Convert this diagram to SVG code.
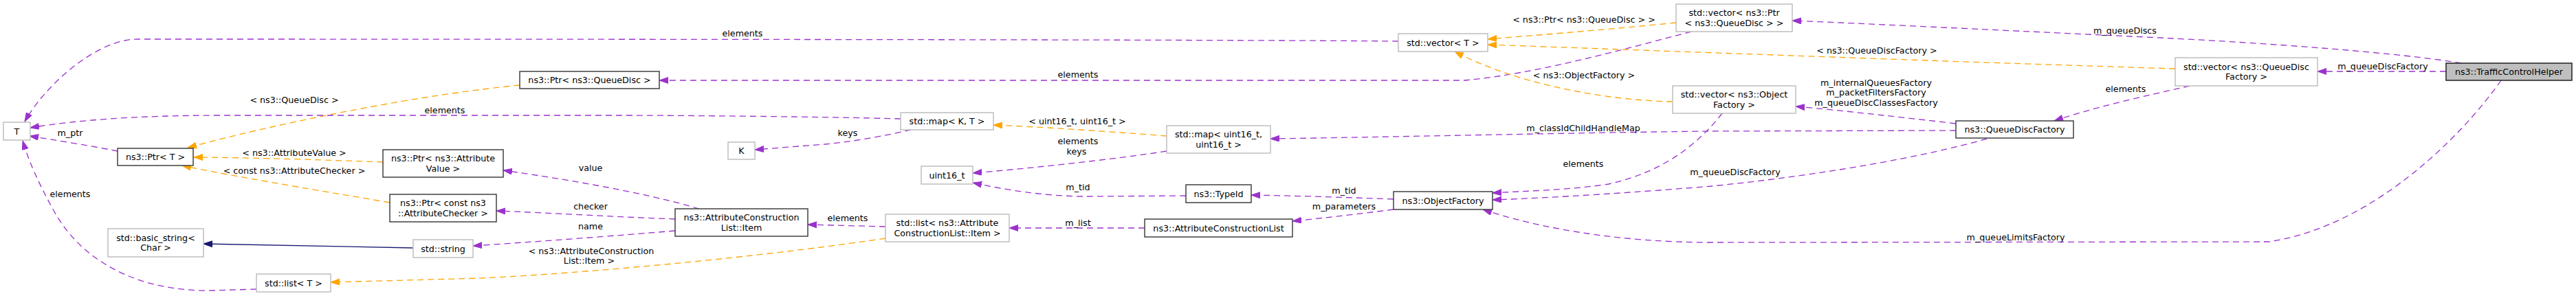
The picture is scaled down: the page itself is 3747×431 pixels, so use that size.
<svg xmlns="http://www.w3.org/2000/svg" width="3747" height="431" viewBox="0 0 3747 431">
<style>
text{font-family:"DejaVu Sans","Liberation Sans",sans-serif;font-size:12.7px;fill:#000;text-anchor:middle}
.d rect{fill:#fff;stroke:#404040;stroke-width:1.5}
.l rect{fill:#fff;stroke:#bfbfbf;stroke-width:1.5}
.h rect{fill:#bfbfbf;stroke:#202020;stroke-width:1.5}
.p{fill:none;stroke:#9a32cd;stroke-width:1.3;stroke-dasharray:9,6;marker-end:url(#ap)}
.o{fill:none;stroke:#ffa500;stroke-width:1.3;stroke-dasharray:9,6;marker-end:url(#ao)}
.s{fill:none;stroke:#191970;stroke-width:1.3;marker-end:url(#as)}
</style>
<defs>
<marker id="ap" markerUnits="userSpaceOnUse" markerWidth="14" markerHeight="10" refX="13" refY="4.5" orient="auto"><path d="M0,0 L13,4.5 L0,9 z" fill="#9a32cd" stroke="#9a32cd"/></marker>
<marker id="ao" markerUnits="userSpaceOnUse" markerWidth="14" markerHeight="10" refX="13" refY="4.5" orient="auto"><path d="M0,0 L13,4.5 L0,9 z" fill="#ffa500" stroke="#ffa500"/></marker>
<marker id="as" markerUnits="userSpaceOnUse" markerWidth="14" markerHeight="10" refX="13" refY="4.5" orient="auto"><path d="M0,0 L13,4.5 L0,9 z" fill="#191970" stroke="#191970"/></marker>
</defs>
<rect width="3747" height="431" fill="#fff"/>
<g id="edges">
<path class="p" d="M2034,60 C1700,57 400,57 200,57 C140,57 65,125 36,177"/>
<text x="1080" y="53">elements</text>
<path class="p" d="M2460,46 C2350,75 2230,108 2130,117 L959,117"/>
<text x="1568" y="113">elements</text>
<path class="o" d="M756,124 C620,137 420,175 273,215"/>
<text x="428" y="150">&lt; ns3::QueueDisc &gt;</text>
<path class="p" d="M1310,173 C1200,170 1000,168 900,168 L320,168 C200,168 110,175 44,186"/>
<text x="647" y="165">elements</text>
<path class="p" d="M1325,189 C1290,197 1250,205 1200,210 L1098,218"/>
<text x="1233" y="198">keys</text>
<path class="p" d="M171,220 C130,212 80,204 43,198"/>
<text x="102" y="198">m_ptr</text>
<path class="o" d="M557,236 C480,233 350,229 282,229"/>
<text x="428" y="227">&lt; ns3::AttributeValue &gt;</text>
<path class="o" d="M567,295 C450,275 330,255 265,241"/>
<text x="428" y="253">&lt; const ns3::AttributeChecker &gt;</text>
<path class="s" d="M601,361 L296,355"/>
<path class="p" d="M373,421 L310,423 C200,425 120,380 80,310 C55,265 42,235 33,205"/>
<text x="102" y="287">elements</text>
<path class="p" d="M1017,304 C980,293 900,272 732,248"/>
<text x="859" y="249">value</text>
<path class="p" d="M982,319 C900,316 800,310 722,307"/>
<text x="859" y="305">checker</text>
<path class="p" d="M982,336 C900,343 780,352 688,358"/>
<text x="859" y="334">name</text>
<path class="o" d="M1288,347 C1150,368 900,395 700,405 L481,411"/>
<text x="860" y="370">&lt; ns3::AttributeConstruction</text>
<text x="857" y="384">List::Item &gt;</text>
<path class="p" d="M1288,330 L1175,327"/>
<text x="1233" y="322">elements</text>
<path class="o" d="M1697,198 C1620,192 1520,185 1445,182"/>
<text x="1567" y="181">&lt; uint16_t, uint16_t &gt;</text>
<path class="p" d="M1697,220 C1620,232 1500,245 1415,252"/>
<text x="1568" y="210">elements</text>
<text x="1566" y="225">keys</text>
<path class="p" d="M1725,285 L1580,286 C1520,286 1460,276 1415,266"/>
<text x="1568" y="277">m_tid</text>
<path class="p" d="M2027,290 C1950,287 1880,285 1820,284"/>
<text x="1955" y="282">m_tid</text>
<path class="p" d="M2027,305 C1980,311 1930,317 1880,322"/>
<text x="1955" y="305">m_parameters</text>
<path class="p" d="M1665,332 L1468,332"/>
<text x="1568" y="329">m_list</text>
<path class="o" d="M2438,33 C2350,42 2250,50 2164,57"/>
<text x="2304" y="33">&lt; ns3::Ptr&lt; ns3::QueueDisc &gt; &gt;</text>
<path class="o" d="M3164,100 C2900,92 2500,77 2164,65"/>
<text x="2730" y="78">&lt; ns3::QueueDiscFactory &gt;</text>
<path class="o" d="M2433,148 C2330,146 2200,120 2116,75"/>
<text x="2304" y="114">&lt; ns3::ObjectFactory &gt;</text>
<path class="p" d="M2505,165 C2470,210 2420,250 2340,268 C2280,277 2220,278 2171,281"/>
<text x="2303" y="243">elements</text>
<path class="p" d="M2845,180 C2760,170 2680,161 2612,155"/>
<text x="2729" y="125">m_internalQueuesFactory</text>
<text x="2729" y="139">m_packetFiltersFactory</text>
<text x="2729" y="154">m_queueDiscClassesFactory</text>
<path class="p" d="M2845,190 L2490,191 C2300,193 2000,200 1848,202"/>
<text x="2303" y="191">m_classIdChildHandleMap</text>
<path class="p" d="M2890,202 C2800,228 2650,255 2490,271 C2380,280 2260,288 2171,291"/>
<text x="2524" y="255">m_queueDiscFactory</text>
<path class="p" d="M3185,125 C3120,140 3050,155 2988,176"/>
<text x="3092" y="134">elements</text>
<path class="p" d="M3580,92 C3500,78 3300,62 3100,53 C2950,46 2750,36 2607,30"/>
<text x="3091" y="49">m_queueDiscs</text>
<path class="p" d="M3558,104 L3371,104"/>
<text x="3466" y="101">m_queueDiscFactory</text>
<path class="p" d="M3638,117 C3580,200 3450,330 3300,352 L2490,353 C2350,353 2230,330 2157,305"/>
<text x="2932" y="350">m_queueLimitsFactory</text>
</g>
<g id="n_T" class="l"><rect x="5" y="178" width="39" height="26"/><text x="24.5" y="195.5">T</text></g>
<g id="n_PtrT" class="d"><rect x="171" y="216" width="110" height="25"/><text x="226" y="233">ns3::Ptr&lt; T &gt;</text></g>
<g id="n_basic_string" class="l"><rect x="157" y="333" width="139" height="41"/><text x="226.5" y="350.5">std::basic_string&lt;</text><text x="226.5" y="365">Char &gt;</text></g>
<g id="n_listT" class="l"><rect x="373" y="399" width="108" height="26"/><text x="427" y="416.5">std::list&lt; T &gt;</text></g>
<g id="n_PtrAttrValue" class="d"><rect x="557" y="218" width="175" height="40"/><text x="644.5" y="235">ns3::Ptr&lt; ns3::Attribute</text><text x="644.5" y="249.5">Value &gt;</text></g>
<g id="n_PtrAttrChecker" class="d"><rect x="567" y="283" width="155" height="40"/><text x="644.5" y="300">ns3::Ptr&lt; const ns3</text><text x="644.5" y="314.5">::AttributeChecker &gt;</text></g>
<g id="n_string" class="l"><rect x="601" y="349" width="87" height="26"/><text x="644.5" y="366.5">std::string</text></g>
<g id="n_PtrQueueDisc" class="d"><rect x="756" y="104" width="203" height="25"/><text x="857.5" y="121">ns3::Ptr&lt; ns3::QueueDisc &gt;</text></g>
<g id="n_K" class="l"><rect x="1059" y="207" width="39" height="25"/><text x="1078.5" y="224">K</text></g>
<g id="n_Item" class="d"><rect x="982" y="304" width="193" height="40"/><text x="1078.5" y="321">ns3::AttributeConstruction</text><text x="1078.5" y="335.5">List::Item</text></g>
<g id="n_mapKT" class="l"><rect x="1310" y="164" width="135" height="25"/><text x="1377.5" y="181">std::map&lt; K, T &gt;</text></g>
<g id="n_uint16" class="l"><rect x="1340" y="242" width="75" height="26"/><text x="1377.5" y="259.5">uint16_t</text></g>
<g id="n_listItem" class="l"><rect x="1288" y="312" width="180" height="40"/><text x="1378" y="329">std::list&lt; ns3::Attribute</text><text x="1378" y="343.5">ConstructionList::Item &gt;</text></g>
<g id="n_mapU16" class="l"><rect x="1697" y="183" width="151" height="40"/><text x="1772.5" y="200">std::map&lt; uint16_t,</text><text x="1772.5" y="214.5">uint16_t &gt;</text></g>
<g id="n_TypeId" class="d"><rect x="1725" y="269" width="95" height="26"/><text x="1772.5" y="286.5">ns3::TypeId</text></g>
<g id="n_ACL" class="d"><rect x="1665" y="319" width="215" height="26"/><text x="1772.5" y="336.5">ns3::AttributeConstructionList</text></g>
<g id="n_vectorT" class="l"><rect x="2034" y="49" width="130" height="26"/><text x="2099" y="66.5">std::vector&lt; T &gt;</text></g>
<g id="n_ObjectFactory" class="d"><rect x="2027" y="279" width="144" height="26"/><text x="2099" y="296.5">ns3::ObjectFactory</text></g>
<g id="n_vectorPtrQD" class="l"><rect x="2438" y="6" width="169" height="40"/><text x="2522.5" y="23">std::vector&lt; ns3::Ptr</text><text x="2522.5" y="37.5">&lt; ns3::QueueDisc &gt; &gt;</text></g>
<g id="n_vectorOF" class="l"><rect x="2433" y="125" width="179" height="40"/><text x="2522.5" y="142">std::vector&lt; ns3::Object</text><text x="2522.5" y="156.5">Factory &gt;</text></g>
<g id="n_QDF" class="d"><rect x="2845" y="176" width="171" height="25"/><text x="2930.5" y="193">ns3::QueueDiscFactory</text></g>
<g id="n_vectorQDF" class="l"><rect x="3164" y="84" width="207" height="41"/><text x="3267.5" y="101.5">std::vector&lt; ns3::QueueDisc</text><text x="3267.5" y="116">Factory &gt;</text></g>
<g id="n_TCH" class="h"><rect x="3558" y="92" width="183" height="25"/><text x="3649.5" y="109">ns3::TrafficControlHelper</text></g>
</svg>
